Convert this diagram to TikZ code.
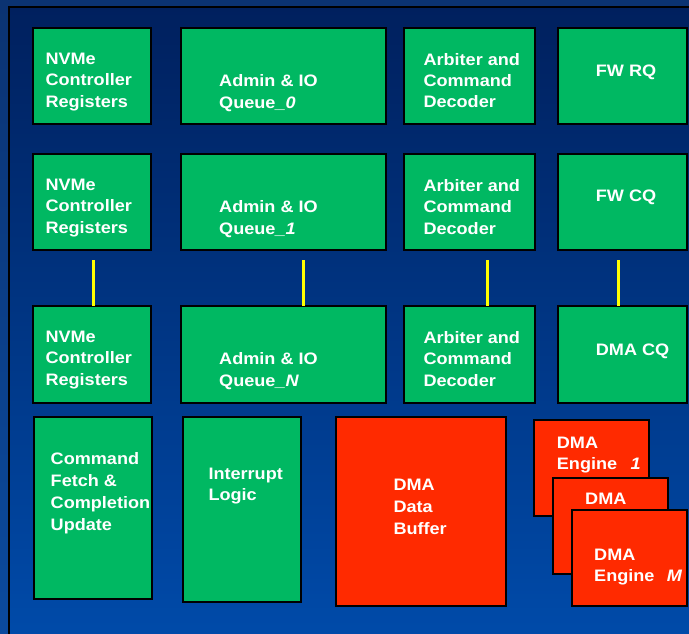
\documentclass[tikz,border=0pt]{standalone}
\usepackage{fontspec}
\setmainfont{Liberation Sans}[FakeStretch=1.09]
\definecolor{outtop}{HTML}{0B3372}
\definecolor{outbot}{HTML}{0B4A9E}
\definecolor{intop}{HTML}{00205E}
\definecolor{inbot}{HTML}{004BAA}
\definecolor{boxgreen}{HTML}{00B862}
\definecolor{boxred}{HTML}{FF2A00}
\definecolor{lineyellow}{HTML}{FFFF00}
\newcommand\txtlines[1]{\begin{tabular}[t]{@{}l@{}}#1\end{tabular}}
\begin{document}
\begin{tikzpicture}[x=1pt,y=-1pt,
  blk/.style={draw=black, line width=2pt, anchor=north west, inner sep=0pt, outer sep=0pt},
  gbox/.style={blk, fill=boxgreen},
  rbox/.style={blk, fill=boxred},
  lbl/.style={text=white, font=\fontsize{16.6}{21.4}\selectfont\bfseries, inner sep=0pt, anchor=base west},
  lblw/.style={lbl, font=\fontsize{16.6}{22.2}\selectfont\bfseries},
  yl/.style={draw=lineyellow, line width=3pt}]
\useasboundingbox (0,0) rectangle (689,633);
\clip (0,0) rectangle (689,633);
% background
\shade[top color=outtop, bottom color=outbot] (0,0) rectangle (689,633);
\shadedraw[top color=intop, bottom color=inbot, draw=black, line width=2pt] (8.5,7) rectangle (700,645);

% row 1
\node[gbox, minimum width=118pt, minimum height=96pt] (r1a) at (33,28) {};
\node[gbox, minimum width=205pt, minimum height=96pt] (r1b) at (181,28) {};
\node[gbox, minimum width=131pt, minimum height=96pt] (r1c) at (404,28) {};
\node[gbox, minimum width=129pt, minimum height=96pt] (r1d) at (558,28) {};
% row 2
\node[gbox, minimum width=118pt, minimum height=96pt] (r2a) at (33,154) {};
\node[gbox, minimum width=205pt, minimum height=96pt] (r2b) at (181,154) {};
\node[gbox, minimum width=131pt, minimum height=96pt] (r2c) at (404,154) {};
\node[gbox, minimum width=129pt, minimum height=96pt] (r2d) at (558,154) {};
% row 3
\node[gbox, minimum width=118pt, minimum height=97pt] (r3a) at (33,306) {};
\node[gbox, minimum width=205pt, minimum height=97pt] (r3b) at (181,306) {};
\node[gbox, minimum width=131pt, minimum height=97pt] (r3c) at (404,306) {};
\node[gbox, minimum width=129pt, minimum height=97pt] (r3d) at (558,306) {};
% row 4
\node[gbox, minimum width=118pt, minimum height=182pt] (cf) at (34,417) {};
\node[gbox, minimum width=118pt, minimum height=185pt] (il) at (183,417) {};
\node[rbox, minimum width=170pt, minimum height=189pt] (buf) at (336,417) {};
\node[rbox, minimum width=115pt, minimum height=96pt] (e1) at (534,420) {};
\node[rbox, minimum width=115pt, minimum height=96pt] (e2) at (553,478) {};
\node[rbox, minimum width=115pt, minimum height=96pt] (eM) at (572,510) {};

% yellow connectors
\coordinate (ya) at (93,260);
\coordinate (yb) at (303,260);
\coordinate (yc) at (487,260);
\coordinate (yd) at (618,260);
\draw[yl] (ya) -- (ya |- r3a.north);
\draw[yl] (yb) -- (yb |- r3b.north);
\draw[yl] (yc) -- (yc |- r3c.north);
\draw[yl] (yd) -- (yd |- r3d.north);

% labels row 1
\node[lbl] (t1a) at (45.3,64.3) {\txtlines{NVMe\\Controller\\Registers}};
\node[lbl] (t1b) at (219,86.7) {\txtlines{Admin \& IO\\Queue\textit{\_0}}};
\node[lbl] (t1c) at (423.3,65) {\txtlines{Arbiter and\\Command\\Decoder}};
\node[lbl] (t1d) at (595.7,76) {FW RQ};
% labels row 2
\node[lbl] (t2a) at (45.3,190.3) {\txtlines{NVMe\\Controller\\Registers}};
\node[lbl] (t2b) at (219,212.7) {\txtlines{Admin \& IO\\Queue\textit{\_1}}};
\node[lbl] (t2c) at (423.3,191.5) {\txtlines{Arbiter and\\Command\\Decoder}};
\node[lbl] (t2d) at (595.7,201.7) {FW CQ};
% labels row 3
\node[lbl] (t3a) at (45.3,342.3) {\txtlines{NVMe\\Controller\\Registers}};
\node[lbl] (t3b) at (219,364.7) {\txtlines{Admin \& IO\\Queue\textit{\_N}}};
\node[lbl] (t3c) at (423.3,343.5) {\txtlines{Arbiter and\\Command\\Decoder}};
\node[lbl] (t3d) at (595.7,355) {DMA CQ};
% labels row 4
\node[lblw] (tcf) at (50.5,464) {\txtlines{Command\\Fetch \&\\Completion\\Update}};
\node[lbl] (til) at (208.3,479) {\txtlines{Interrupt\\Logic}};
\node[lblw] (tbuf) at (393.3,490) {\txtlines{DMA\\Data\\Buffer}};
\node[lbl] (te1) at (556.7,448.3) {\txtlines{DMA\\Engine\hspace{0.8em}\textit{1}}};
\node[lbl] (te2) at (585,504) {DMA};
\node[lbl] (teM) at (594,560) {\txtlines{DMA\\Engine\hspace{0.75em}\textit{M}}};
\end{tikzpicture}
\end{document}
